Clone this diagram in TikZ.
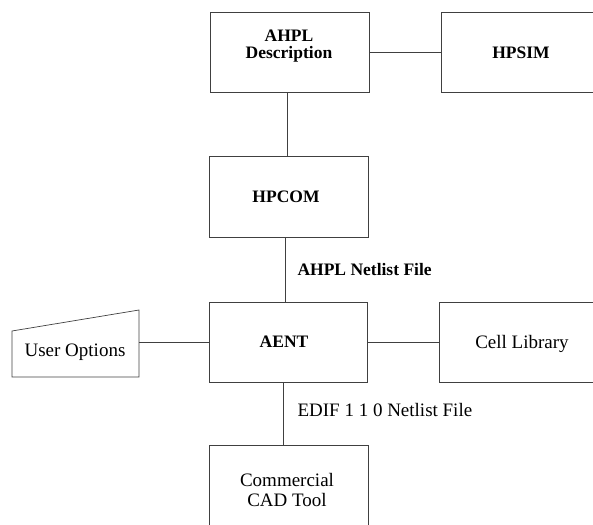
\documentclass[tikz,border=0pt]{standalone}
\usepackage{fontspec}
\setmainfont{Liberation Serif}
\begin{document}
\begin{tikzpicture}[x=1pt,y=-1pt,
  line/.style={draw=black!75,line width=0.7pt},
  blk/.style={line,rectangle,inner sep=0pt},
  boldlbl/.style={font=\fontsize{17.5}{17}\selectfont\bfseries,align=center},
  plainlbl/.style={font=\fontsize{19}{20}\selectfont,align=center}]
\useasboundingbox (0,0) rectangle (593,524);
\clip (0,0) rectangle (593,524);

% main blocks
\node[blk,minimum width=159pt,minimum height=80pt] (ahpl) at (289.5,52) {};
\node[boldlbl] (tahpl) at (289,46) {AHPL\\Description};
\node[blk,minimum width=159pt,minimum height=80pt] (hpsim) at (520.5,52) {};
\node[boldlbl] (thpsim) at (521,53) {HPSIM};
\node[blk,minimum width=159pt,minimum height=81pt] (hpcom) at (288.5,196.5) {};
\node[boldlbl] (thpcom) at (286,197) {HPCOM};
\node[blk,minimum width=158pt,minimum height=80pt] (aent) at (288,342) {};
\node[boldlbl] (taent) at (284,342) {AENT};
\node[blk,minimum width=161pt,minimum height=80pt] (cell) at (519.5,342) {};
\node[plainlbl] (tcell) at (522,344) {Cell Library};
\node[blk,minimum width=159pt,minimum height=120pt] (cad) at (288.5,505) {};
\node[plainlbl] (tcad) at (287,490) {Commercial\\CAD Tool};

% manual-input block with slanted top
\node[rectangle,inner sep=0pt,minimum width=127pt,minimum height=67pt] (uopt) at (75.5,343.5) {};
\draw[line] (12,331) -- (139,310) -- (139,377) -- (12,377) -- cycle;
\node[plainlbl] (tuopt) at (75,352) {User Options};

% connectors
\draw[line] (ahpl.east) -- (ahpl.east -| hpsim.west);
\draw[line] (ahpl.south -| 287,0) -- (hpcom.north -| 287,0);
\draw[line] (hpcom.south -| 285,0) -- (aent.north -| 285,0);
\draw[line] (aent.west) -- (aent.west -| uopt.east);
\draw[line] (aent.east) -- (aent.east -| cell.west);
\draw[line] (aent.south -| 283,0) -- (cad.north -| 283,0);

% flow labels
\node[boldlbl,anchor=west] (lblahpl) at (294,270) {AHPL Netlist File};
\node[plainlbl,anchor=west] (lbledif) at (294,410) {EDIF 1 1 0 Netlist File};
\end{tikzpicture}
\end{document}
